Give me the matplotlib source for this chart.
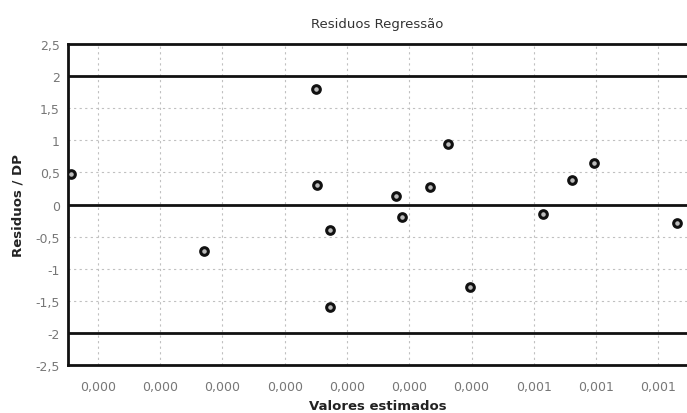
import matplotlib.pyplot as plt
import numpy as np

# valores estimados e residuos padronizados
valores = [0.000128, 0.000235, 0.000325, 0.000326, 0.000336, 0.000336, 0.000389,
           0.000394, 0.000417, 0.000431, 0.000449, 0.000507, 0.000531, 0.000548, 0.000615]
residuos = [0.47, -0.72, 1.80, 0.31, -0.39, -1.59, 0.14,
            -0.20, 0.27, 0.95, -1.28, -0.14, 0.39, 0.64, -0.28]

x_ticks = [0.00015, 0.00020, 0.00025, 0.00030, 0.00035, 0.00040, 0.00045,
           0.00050, 0.00055, 0.00060]
x_labels = ["0,000", "0,000", "0,000", "0,000", "0,000", "0,000", "0,000",
            "0,001", "0,001", "0,001"]
y_ticks = [-2.5, -2, -1.5, -1, -0.5, 0, 0.5, 1, 1.5, 2, 2.5]
y_labels = ["-2,5", "-2", "-1,5", "-1", "-0,5", "0", "0,5", "1", "1,5", "2", "2,5"]
limites = [-2, 0, 2]

fig = plt.figure(figsize=(6.87, 4.14), dpi=100)
ax = fig.add_axes([0.099, 0.116, 0.901, 0.775])

ax.set_xlim(0.000126, 0.000623)
ax.set_ylim(-2.5, 2.5)

ax.grid(True, linestyle=(0, (2, 3)), color="#c0c0c0", linewidth=0.8)
for y in limites:
    ax.axhline(y, color="#111111", linewidth=2)

ax.plot(valores, residuos, "o", markersize=5.5, markerfacecolor="#bbbbbb",
        markeredgecolor="#111111", markeredgewidth=2.2, linestyle="none", zorder=5)

ax.set_xticks(x_ticks)
ax.set_xticklabels(x_labels)
ax.set_yticks(y_ticks)
ax.set_yticklabels(y_labels)
ax.tick_params(length=0, labelsize=9, labelcolor="#777777")
ax.tick_params(axis="x", pad=11)
ax.tick_params(axis="y", pad=6)

for s in ["left", "top", "bottom"]:
    ax.spines[s].set_linewidth(2)
    ax.spines[s].set_color("#111111")
ax.spines["right"].set_visible(False)

ax.set_title("Residuos Regressão", fontsize=9.5, fontweight="medium", color="#333333", pad=12)
ax.set_xlabel("Valores estimados", fontsize=9.5, fontweight="bold", color="#222222", labelpad=4)
ax.set_ylabel("Residuos / DP", fontsize=9.5, fontweight="bold", color="#222222", labelpad=8)

fig.savefig("out.png", dpi=100)
